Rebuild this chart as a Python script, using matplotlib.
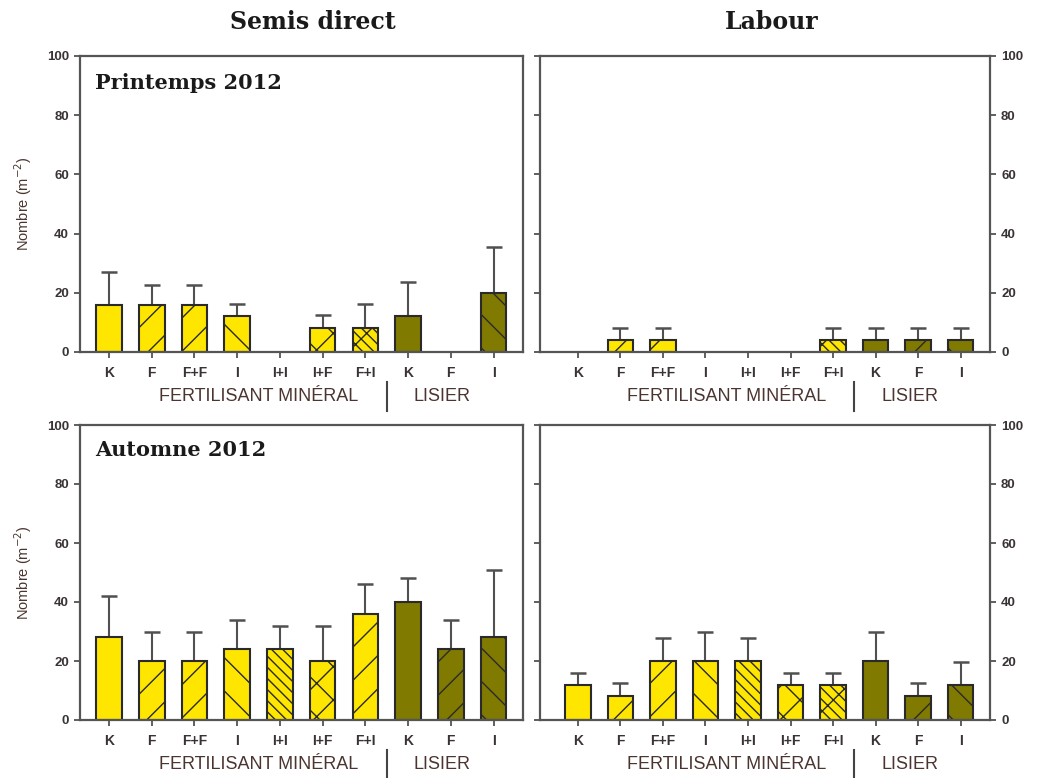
import matplotlib
matplotlib.use("Agg")
import matplotlib.pyplot as plt
import matplotlib.transforms as mtransforms
import numpy as np

plt.rcParams['font.family'] = ['Liberation Sans', 'DejaVu Sans']
plt.rcParams['hatch.linewidth'] = 1.0

# ---------------- data ----------------
categories = ["K", "F", "F+F", "I", "I+I", "I+F", "F+I", "K", "F", "I"]
groups = ["FERTILISANT MINÉRAL", "LISIER"]
n_mineral = 7

# Semis direct, Printemps 2012
sd_spring_mean = [16, 16, 16, 12, 0, 8, 8, 12, 0, 20]
sd_spring_err = [11, 6.5, 6.5, 4.3, 0, 4.6, 8.3, 11.6, 0, 15.5]
# Labour, Printemps 2012
lab_spring_mean = [0, 4, 4, 0, 0, 0, 4, 4, 4, 4]
lab_spring_err = [0, 4, 4, 0, 0, 0, 4, 4, 4, 4]
# Semis direct, Automne 2012
sd_autumn_mean = [28, 20, 20, 24, 24, 20, 36, 40, 24, 28]
sd_autumn_err = [14, 10, 10, 10, 8, 12, 10, 8, 10, 23]
# Labour, Automne 2012
lab_autumn_mean = [12, 8, 20, 20, 20, 12, 12, 20, 8, 12]
lab_autumn_err = [4, 4.5, 7.7, 10, 7.7, 4, 4, 10, 4.5, 7.5]

column_titles = ["Semis direct", "Labour"]
row_titles = ["Printemps 2012", "Automne 2012"]
yticks = [0, 20, 40, 60, 80, 100]

# ---------------- styles ----------------
yellow = "#FFE600"
olive = "#807A00"
colors = [yellow] * 7 + [olive] * 3
hatch_std = ["", "/", "/", "\\", "\\\\\\", "x", "/\\\\\\", "", "/", "\\"]
hatch_alt = ["", "/", "/", "\\", "\\\\\\", "x", "/", "", "/", "\\"]
edge = "#2a2a2a"
txt = "#3a3333"
brown = "#4a3530"

fig = plt.figure(figsize=(10.48, 7.78), dpi=100)

W, H = 1048, 778
def axes_rect(x0, x1, ytop, ybot):
    return [x0 / W, 1 - ybot / H, (x1 - x0) / W, (ybot - ytop) / H]

rects = {
    (0, 0): axes_rect(80, 523, 56, 352),
    (0, 1): axes_rect(540, 990, 56, 352),
    (1, 0): axes_rect(80, 523, 425, 720),
    (1, 1): axes_rect(540, 990, 425, 720),
}
data = {
    (0, 0): (sd_spring_mean, sd_spring_err, hatch_std),
    (0, 1): (lab_spring_mean, lab_spring_err, hatch_std),
    (1, 0): (sd_autumn_mean, sd_autumn_err, hatch_alt),
    (1, 1): (lab_autumn_mean, lab_autumn_err, hatch_std),
}

x = np.arange(len(categories))
for (r, c), rect in rects.items():
    ax = fig.add_axes(rect)
    means, errs, hatches = data[(r, c)]
    for i in range(len(categories)):
        if means[i] <= 0:
            continue
        ax.bar(x[i], means[i], width=0.6, color=colors[i], edgecolor=edge,
               linewidth=1.5, hatch=hatches[i], zorder=2)
        ax.errorbar(x[i], means[i], yerr=[[0], [errs[i]]], fmt="none",
                    ecolor="#505050", elinewidth=1.5, capsize=5.5, capthick=1.8,
                    zorder=1)
    ax.set_ylim(0, 100)
    if c == 0:
        ax.set_xlim(-0.68, 9.69)
    else:
        ax.set_xlim(-0.89, 9.69)
    ax.set_yticks(yticks)
    ax.set_xticks(x)
    ax.set_xticklabels(categories, fontsize=10, fontweight="bold", color=txt)
    ax.tick_params(axis="x", length=4, width=1.2, color="#444444", pad=6)
    for s in ax.spines.values():
        s.set_color("#555555")
        s.set_linewidth(1.6)
    if c == 0:
        ax.tick_params(axis="y", left=True, right=False, labelleft=True,
                       labelright=False, direction="out", length=4, width=1.2,
                       color="#444444", labelsize=9.5, labelcolor=txt, pad=4)
        for lab in ax.get_yticklabels():
            lab.set_fontweight("bold")
        ax.set_ylabel("Nombre (m$^{-2}$)", fontsize=10.5, color=brown, labelpad=9)
        ax.text(0.034, 0.91 if r == 0 else 0.915, row_titles[r],
                transform=ax.transAxes, ha="left", va="center",
                fontsize=15, fontweight="bold", family="DejaVu Serif",
                color="#1a1a1a")
    else:
        ax.tick_params(axis="y", left=True, right=True, labelleft=False,
                       labelright=True, direction="out", length=4, width=1.2,
                       color="#444444", labelsize=9.5, labelcolor=txt, pad=4)
        for lab in ax.get_yticklabels():
            lab.set_fontweight("bold")
    # group labels and separator
    trans = mtransforms.blended_transform_factory(ax.transData, ax.transAxes)
    ax.text(3.5, -0.152, groups[0], transform=trans, ha="center", va="center",
            fontsize=13, color=brown)
    ax.text(7.8, -0.152, groups[1], transform=trans, ha="center", va="center",
            fontsize=13, color=brown)
    ax.plot([n_mineral - 0.5, n_mineral - 0.5], [-0.10, -0.20], transform=trans,
            color="#444444", linewidth=1.5, clip_on=False)

fig.text(313 / W, 1 - 22 / H, column_titles[0], ha="center", va="center",
         fontsize=17, fontweight="bold", family="DejaVu Serif", color="#1a1a1a")
fig.text(772 / W, 1 - 22 / H, column_titles[1], ha="center", va="center",
         fontsize=17, fontweight="bold", family="DejaVu Serif", color="#1a1a1a")

fig.savefig("out.png", dpi=100)
